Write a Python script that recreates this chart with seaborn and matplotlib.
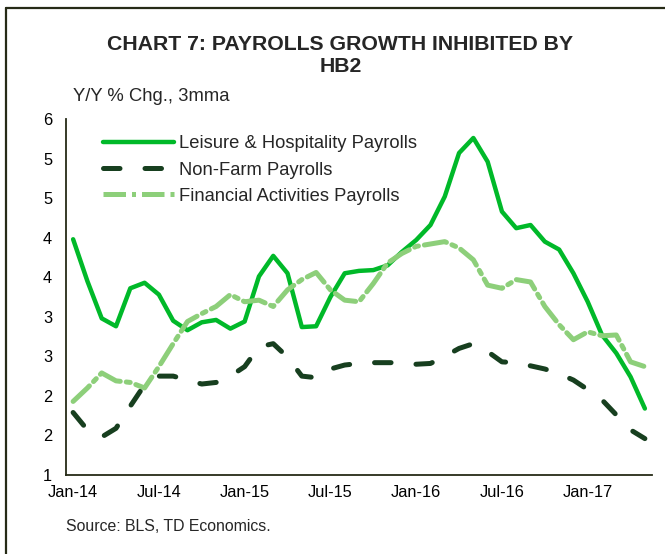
import math
import pandas as pd
import matplotlib
matplotlib.use("Agg")
from matplotlib import pyplot as plt
from matplotlib.lines import Line2D
from matplotlib.ticker import FixedLocator, FuncFormatter
import seaborn as sns

# monthly, Jan-14 .. May-17 (41 points), Y/Y % chg 3mma
months = pd.date_range("2014-01-01", "2017-05-01", freq="MS")

leisure = [3.98, 3.45, 2.98, 2.88, 3.36, 3.43, 3.28, 2.95, 2.83, 2.93, 2.96, 2.85,
           2.94, 3.51, 3.77, 3.55, 2.87, 2.88, 3.25, 3.55, 3.58, 3.59, 3.65, 3.82,
           3.97, 4.16, 4.52, 5.07, 5.26, 4.96, 4.33, 4.12, 4.16, 3.95, 3.85, 3.55,
           3.19, 2.77, 2.54, 2.24, 1.84]
nonfarm = [1.79, 1.57, 1.48, 1.59, 1.87, 2.14, 2.25, 2.25, 2.20, 2.15, 2.17, 2.25,
           2.37, 2.62, 2.66, 2.49, 2.25, 2.23, 2.34, 2.39, 2.41, 2.42, 2.42, 2.42,
           2.40, 2.41, 2.50, 2.60, 2.66, 2.56, 2.43, 2.42, 2.38, 2.34, 2.28, 2.20,
           2.08, 1.95, 1.76, 1.57, 1.46]
financial = [1.93, 2.10, 2.29, 2.19, 2.17, 2.10, 2.37, 2.66, 2.94, 3.04, 3.13, 3.28,
             3.19, 3.21, 3.13, 3.34, 3.47, 3.56, 3.34, 3.21, 3.19, 3.42, 3.68, 3.80,
             3.89, 3.92, 3.95, 3.87, 3.72, 3.40, 3.36, 3.47, 3.44, 3.13, 2.90, 2.71,
             2.81, 2.76, 2.77, 2.43, 2.37]

series_names = ["Leisure & Hospitality Payrolls", "Non-Farm Payrolls",
                "Financial Activities Payrolls"]
tick_labels = ["Jan-14", "Jul-14", "Jan-15", "Jul-15", "Jan-16", "Jul-16", "Jan-17"]

df = pd.DataFrame({"idx": range(len(months)),
                   series_names[0]: leisure,
                   series_names[1]: nonfarm,
                   series_names[2]: financial})
long = df.melt(id_vars="idx", var_name="series", value_name="val")

sns.set_style("white")
plt.rcParams["font.family"] = ["Liberation Sans", "DejaVu Sans"]

fig = plt.figure(figsize=(6.65, 5.54), dpi=100)
ax = fig.add_axes([0.0992, 0.1426, 0.8813, 0.6426])

colors = {series_names[0]: "#00B929",
          series_names[1]: "#173F1F",
          series_names[2]: "#8DCF7A"}
sns.lineplot(data=long, x="idx", y="val", hue="series", palette=colors,
             ax=ax, legend=False, linewidth=3.2)

dash_nf = (0, (3.3, 5))
dash_fin = (0, (4.5, 1.2, 0.8, 1.2))
styles = [(None, 3.2), (dash_nf, 3.6), (dash_fin, 3.6)]
for line, (ls, lw) in zip(ax.get_lines(), styles):
    if ls is not None:
        line.set_linestyle(ls)
    line.set_linewidth(lw)
    line.set_solid_capstyle("round")
    line.set_dash_capstyle("round")

ax.set_xlim(-0.5, len(months) - 0.5)
ax.set_ylim(1, 5.5)
ax.yaxis.set_major_locator(FixedLocator([1 + 0.5 * i for i in range(10)]))
ax.yaxis.set_major_formatter(FuncFormatter(lambda v, p: str(int(math.floor(v + 0.5)))))
ax.set_xticks(range(0, len(months), 6))
ax.set_xticklabels(tick_labels)
ax.tick_params(axis="both", length=0, labelsize=11.8, colors="black")
ax.tick_params(axis="y", pad=10)
ax.tick_params(axis="x", pad=7)
ax.set_xlabel("")
ax.set_ylabel("")

for s in ["top", "right"]:
    ax.spines[s].set_visible(False)
for s in ["left", "bottom"]:
    ax.spines[s].set_color("#262B17")
    ax.spines[s].set_linewidth(1.3)

handles = [Line2D([], [], color=colors[series_names[0]], lw=3.2, solid_capstyle="round"),
           Line2D([], [], color=colors[series_names[1]], lw=3.6, ls=dash_nf,
                  dash_capstyle="round"),
           Line2D([], [], color=colors[series_names[2]], lw=3.6, ls=dash_fin)]
ax.legend(handles, series_names, loc="upper left", bbox_to_anchor=(0.035, 1.0),
          frameon=False, fontsize=13.2, handlelength=3.85, handletextpad=0.3,
          labelspacing=0.5)

fig.text(0.512, 0.899, "CHART 7: PAYROLLS GROWTH INHIBITED BY\nHB2", ha="center",
         va="center", fontsize=15.3, fontweight="bold", linespacing=1.2)
fig.text(0.11, 0.825, "Y/Y % Chg., 3mma", ha="left", va="center", fontsize=13.3)
fig.text(0.099, 0.049, "Source: BLS, TD Economics.", ha="left", va="center",
         fontsize=11.4)

# frame edges visible in the reference (top and left)
fig.add_artist(Line2D([0.009, 1.0], [0.985, 0.985], color="#262B17", lw=1.6))
fig.add_artist(Line2D([0.009, 0.009], [0.0, 0.985], color="#262B17", lw=1.6))

fig.savefig("out.png", dpi=100)
